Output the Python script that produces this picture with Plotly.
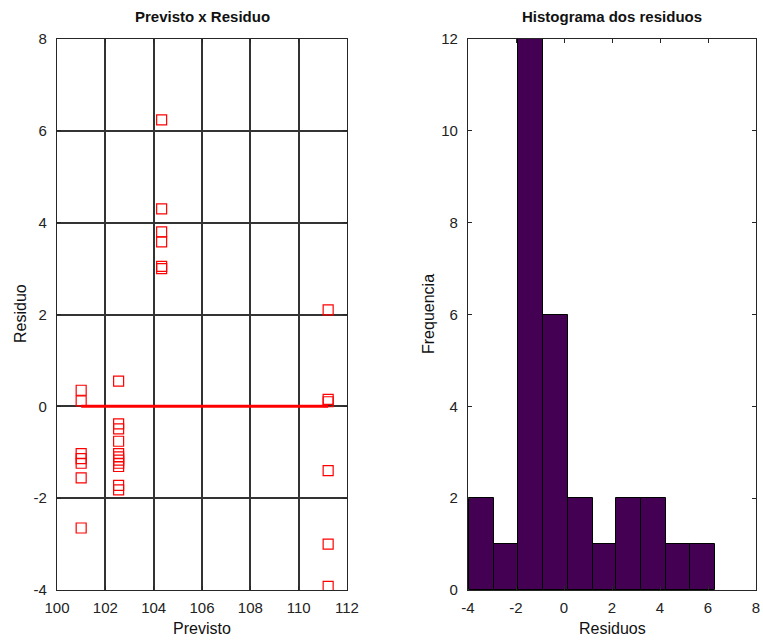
import plotly.graph_objects as go

# ---- data ----
previsto = [101.0]*7 + [102.55]*11 + [104.33]*6 + [111.22]*6
residuo = [0.35, 0.12, -1.03, -1.14, -1.24, -1.56, -2.65,
           0.55, -0.38, -0.49, -0.76, -1.03, -1.10, -1.17, -1.24, -1.31, -1.72, -1.82,
           6.24, 4.30, 3.80, 3.58, 3.05, 3.00,
           2.10, 0.15, 0.10, -1.40, -3.00, -3.92]

bin_edges = [-3.96, -2.93, -1.90, -0.86, 0.16, 1.19, 2.17, 3.19, 4.23, 5.25, 6.28]
bin_counts = [2, 1, 12, 6, 2, 1, 2, 2, 1, 1]

left_xticks = [100, 102, 104, 106, 108, 110, 112]
left_yticks = [-4, -2, 0, 2, 4, 6, 8]
right_xticks = [-4, -2, 0, 2, 4, 6, 8]
right_yticks = [0, 2, 4, 6, 8, 10, 12]

W, H = 763, 641
FONT = "Liberation Sans, Arial, sans-serif"
AX = "#262626"

fig = go.Figure()

fig.add_trace(go.Scatter(
    x=previsto, y=residuo, mode="markers",
    marker=dict(symbol="square-open", size=10, color="#ff0000", line=dict(width=1.2)),
    xaxis="x", yaxis="y", showlegend=False))

fig.add_trace(go.Scatter(
    x=[min(previsto), max(previsto)], y=[0, 0], mode="lines",
    line=dict(color="#ff0000", width=3),
    xaxis="x", yaxis="y", showlegend=False))

centers = [(a + b) / 2 for a, b in zip(bin_edges[:-1], bin_edges[1:])]
widths = [b - a for a, b in zip(bin_edges[:-1], bin_edges[1:])]
fig.add_trace(go.Bar(
    x=centers, y=bin_counts, width=widths,
    marker=dict(color="#440154", line=dict(color="#000000", width=1)),
    xaxis="x2", yaxis="y2", showlegend=False))

x0l, x1l = 57 / W, 347 / W
x0r, x1r = 468 / W, 756 / W
yb, yt = (H - 590) / H, (H - 39) / H

common = dict(showline=True, linecolor=AX, linewidth=1.2, mirror="ticks",
              ticks="inside", ticklen=4, tickcolor=AX, zeroline=False,
              automargin=False,
              tickfont=dict(family=FONT, size=15, color="#222"))

def labels(vals):
    return [str(v) for v in vals]

fig.update_layout(
    width=W, height=H, margin=dict(l=0, r=0, t=0, b=0, autoexpand=False),
    paper_bgcolor="white", plot_bgcolor="white",
    bargap=0,
    xaxis=dict(domain=[x0l, x1l], range=[100, 112], tickvals=left_xticks,
               ticktext=labels(left_xticks),
               showgrid=True, gridcolor="#333333", gridwidth=1.5,
               anchor="y", ticklabelstandoff=4, **common),
    yaxis=dict(domain=[yb, yt], range=[-4, 8], tickvals=left_yticks,
               ticktext=labels(left_yticks),
               showgrid=True, gridcolor="#333333", gridwidth=1.5,
               anchor="x", ticklabelstandoff=6, **common),
    xaxis2=dict(domain=[x0r, x1r], range=[-4, 8], tickvals=right_xticks,
                ticktext=labels(right_xticks),
                showgrid=False, anchor="y2", ticklabelstandoff=4, **common),
    yaxis2=dict(domain=[yb, yt], range=[0, 12], tickvals=right_yticks,
                ticktext=labels(right_yticks),
                showgrid=False, anchor="x2", ticklabelstandoff=6, **common),
)

def ann(text, x, y, size=14, bold=False, angle=0):
    fig.add_annotation(
        text=f"<b>{text}</b>" if bold else text,
        x=x / W, y=1 - y / H, xref="paper", yref="paper",
        showarrow=False, textangle=angle,
        font=dict(family=FONT, size=size, color="#111"),
        xanchor="center", yanchor="middle")

ann("Previsto x Residuo", 202, 17, size=15, bold=True)
ann("Histograma dos residuos", 612, 17, size=15, bold=True)
ann("Previsto", 202, 628, size=16)
ann("Residuos", 612, 628, size=16)
ann("Residuo", 20, 314, size=16, angle=-90)
ann("Frequencia", 428, 314, size=16, angle=-90)

fig.write_html("out.html")
